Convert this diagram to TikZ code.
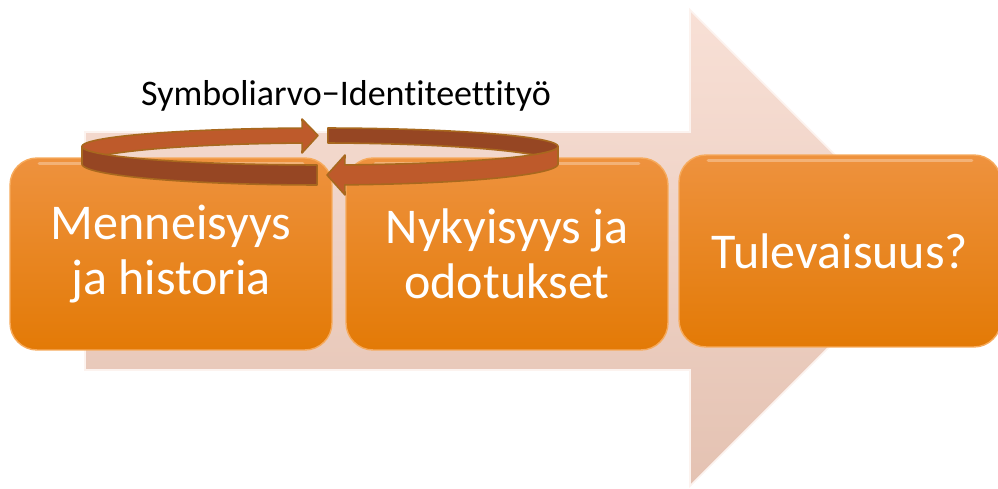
\documentclass[tikz,border=0pt]{standalone}
\usepackage{fontspec}
\setmainfont{Carlito}[Ligatures={NoCommon}]
\definecolor{pinkT}{RGB}{248,224,214}
\definecolor{pinkB}{RGB}{228,194,178}
\definecolor{orT}{RGB}{238,146,62}
\definecolor{orB}{RGB}{227,122,6}
\definecolor{orEdge}{RGB}{246,170,92}
\definecolor{rustL}{RGB}{190,90,43}
\definecolor{rustD}{RGB}{150,70,35}
\definecolor{rustEdge}{RGB}{168,104,30}
\tikzset{
  stage/.style={draw=orEdge, line width=0.8pt, rounded corners=5.4mm,
    top color=orT, bottom color=orB, minimum width=6.44cm, minimum height=3.84cm,
    text=white, font=\fontsize{28.5}{31.5}\selectfont, align=center, inner sep=0pt},
  band/.style={draw=rustEdge, line width=0.9pt, line join=round},
  gloss/.style={draw=white, opacity=0.3, line width=2pt, line cap=round},
}
\begin{document}
\begin{tikzpicture}[x=0.02cm,y=-0.02cm]
\useasboundingbox (0,0) rectangle (998,489);
% big background arrow
\path[top color=pinkT, bottom color=pinkB, draw=white!60!pinkT, line width=1pt]
  (85,132) -- (690,132) -- (690,10) -- (928,248) -- (690,486) -- (690,370) -- (85,370) -- cycle;
% stages
\node[stage] (past) at (171,254) {Menneisyys\\ja historia};
\node[stage] (now) at (507,254) {Nykyisyys ja\\odotukset};
\node[stage] (future) at (840,251) {Tulevaisuus?};
\foreach \n in {past,now,future}{
  \draw[gloss] ([xshift=0.6cm,yshift=-0.12cm]\n.north west) -- ([xshift=-0.6cm,yshift=-0.12cm]\n.north east);
}
% circular arrow (ribbon ellipse)
\def\cx{320}\def\cy{146.5}\def\ea{238}\def\eb{18.5}
% left back band (light) with head pointing right
\path[band, fill=rustL]
  plot[domain=180:94.3, samples=40, variable=\t] ({\cx+\ea*cos(\t)},{\cy-\eb*sin(\t)})
  -- (302,119) -- (318,135.5) -- (302,153)
  -- plot[domain=94.3:180, samples=40, variable=\t] ({\cx+\ea*cos(\t)},{\cy-\eb*sin(\t)+17.5-2.5*sin(\t)})
  -- cycle;
% right back band (dark)
\path[band, fill=rustD]
  plot[domain=88.1:0, samples=40, variable=\t] ({\cx+\ea*cos(\t)},{\cy-\eb*sin(\t)})
  -- plot[domain=0:88.1, samples=40, variable=\t] ({\cx+\ea*cos(\t)},{\cy-\eb*sin(\t)+17.5-2.5*sin(\t)})
  -- cycle;
% left front band (dark)
\path[band, fill=rustD]
  plot[domain=180:269.3, samples=40, variable=\t] ({\cx+\ea*cos(\t)},{\cy-\eb*sin(\t)})
  -- plot[domain=269.3:180, samples=40, variable=\t] ({\cx+\ea*cos(\t)},{\cy-\eb*sin(\t)+17.5-2.5*sin(\t)})
  -- cycle;
% right front band (light) with head pointing left
\path[band, fill=rustL]
  plot[domain=360:276, samples=40, variable=\t] ({\cx+\ea*cos(\t)},{\cy-\eb*sin(\t)})
  -- (345,155) -- (327,175) -- (345,195)
  -- plot[domain=276:360, samples=40, variable=\t] ({\cx+\ea*cos(\t)},{\cy-\eb*sin(\t)+17.5-2.5*sin(\t)})
  -- cycle;
% label
\node[font=\fontsize{20.5}{23}\selectfont, anchor=base] (lbl) at (346,106) {Symboliarvo−Identiteettityö};
\end{tikzpicture}
\end{document}
